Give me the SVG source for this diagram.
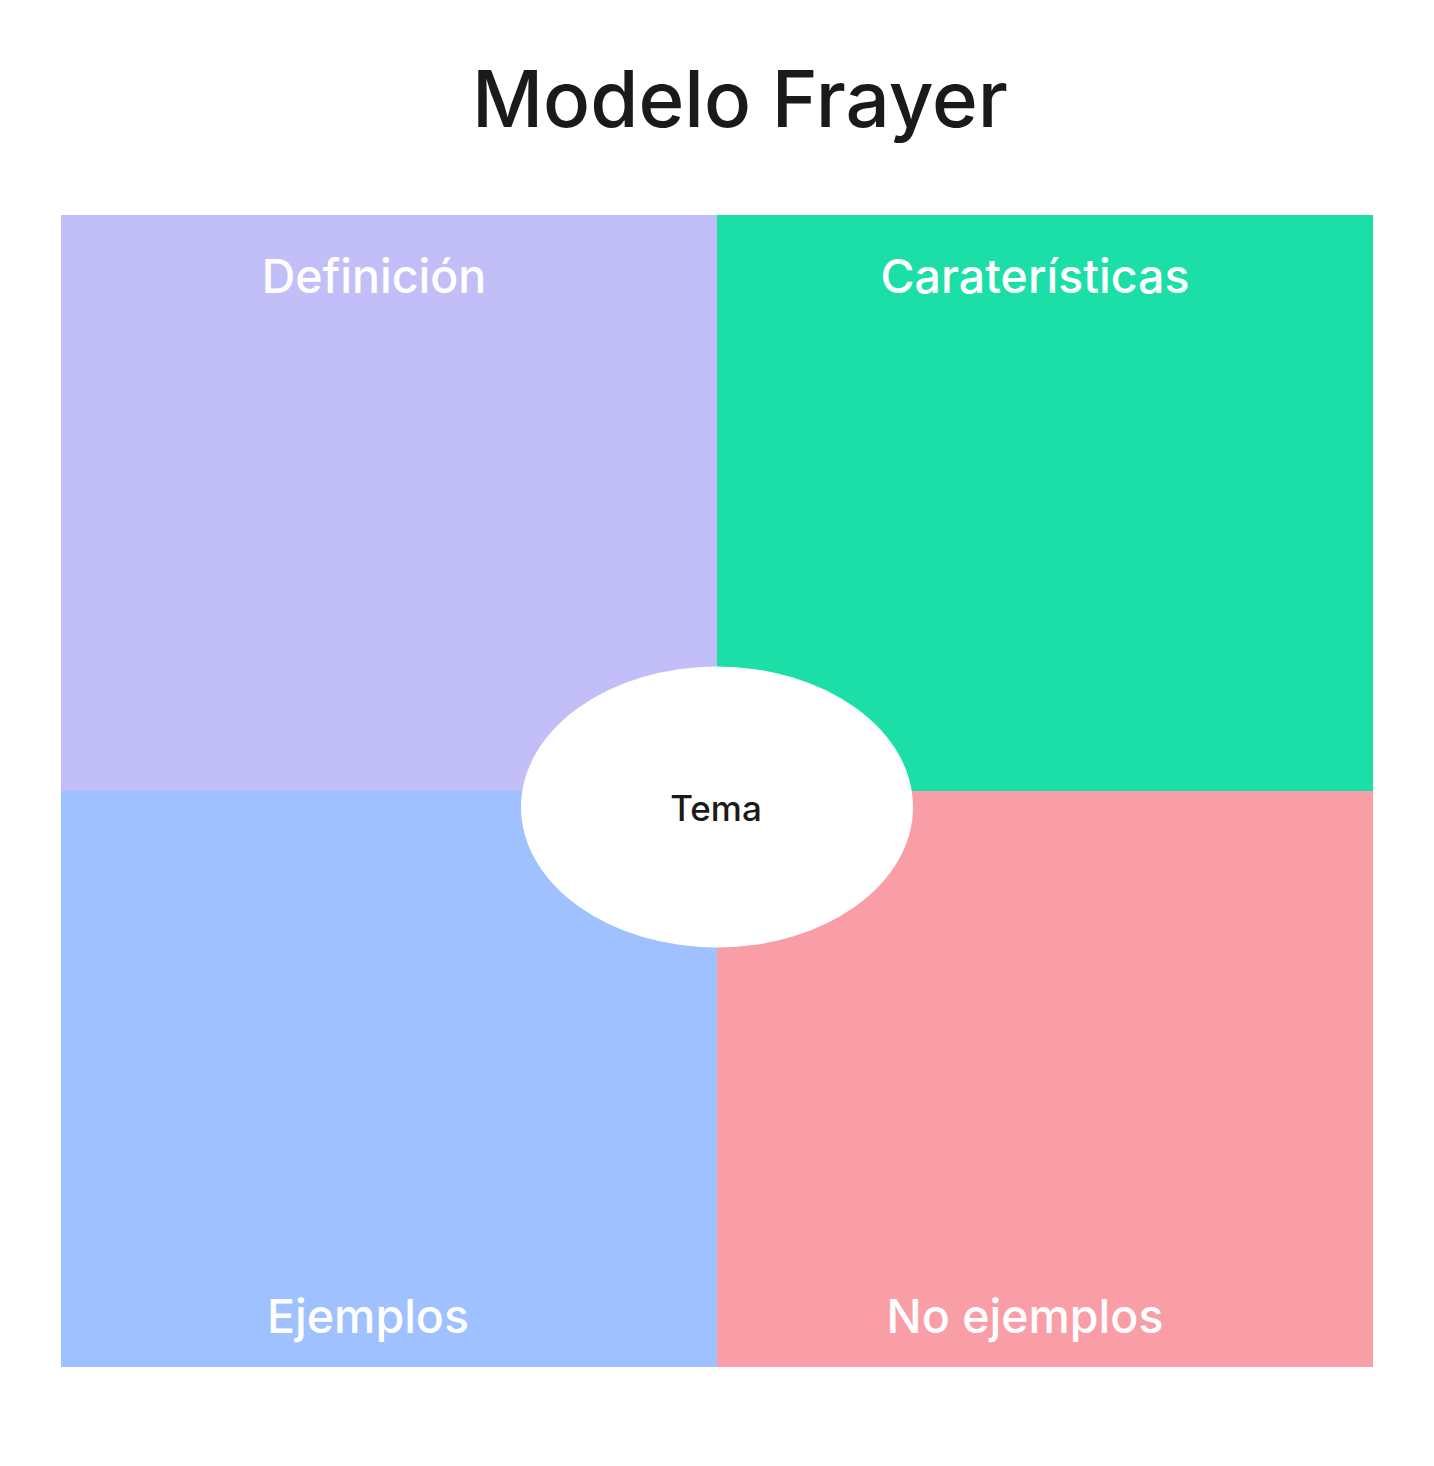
<svg xmlns="http://www.w3.org/2000/svg" width="1434" height="1466" viewBox="0 0 1434 1466">
<style>
.lbl{font-family:Inter,"Liberation Sans",sans-serif;font-size:46.5px;font-weight:500;fill:#ffffff;text-anchor:middle}
.title{font-family:Inter,"Liberation Sans",sans-serif;font-size:78px;font-weight:500;fill:#1a1a1a;text-anchor:middle}
.tema{font-family:Inter,"Liberation Sans",sans-serif;font-size:35px;font-weight:500;fill:#1a1a1a;text-anchor:middle}
</style>
<rect width="1434" height="1466" fill="#ffffff"/>
<text class="title" x="740" y="127">Modelo Frayer</text>
<g id="definicion">
<rect x="61" y="215" width="656" height="576" fill="#C2BFF8"/>
<text class="lbl" x="374" y="293">Definición</text>
</g>
<g id="caracteristicas">
<rect x="717" y="215" width="656" height="576" fill="#1BDFA6"/>
<text class="lbl" x="1035" y="293">Caraterísticas</text>
</g>
<g id="ejemplos">
<rect x="61" y="791" width="656" height="576" fill="#9FC1FF"/>
<text class="lbl" x="368" y="1333">Ejemplos</text>
</g>
<g id="no-ejemplos">
<rect x="717" y="791" width="656" height="576" fill="#F99DA7"/>
<text class="lbl" x="1025" y="1333">No ejemplos</text>
</g>
<g id="tema">
<ellipse cx="717" cy="807" rx="196" ry="140.5" fill="#ffffff"/>
<text class="tema" x="716" y="821">Tema</text>
</g>
<g id="connectors"/>
</svg>
